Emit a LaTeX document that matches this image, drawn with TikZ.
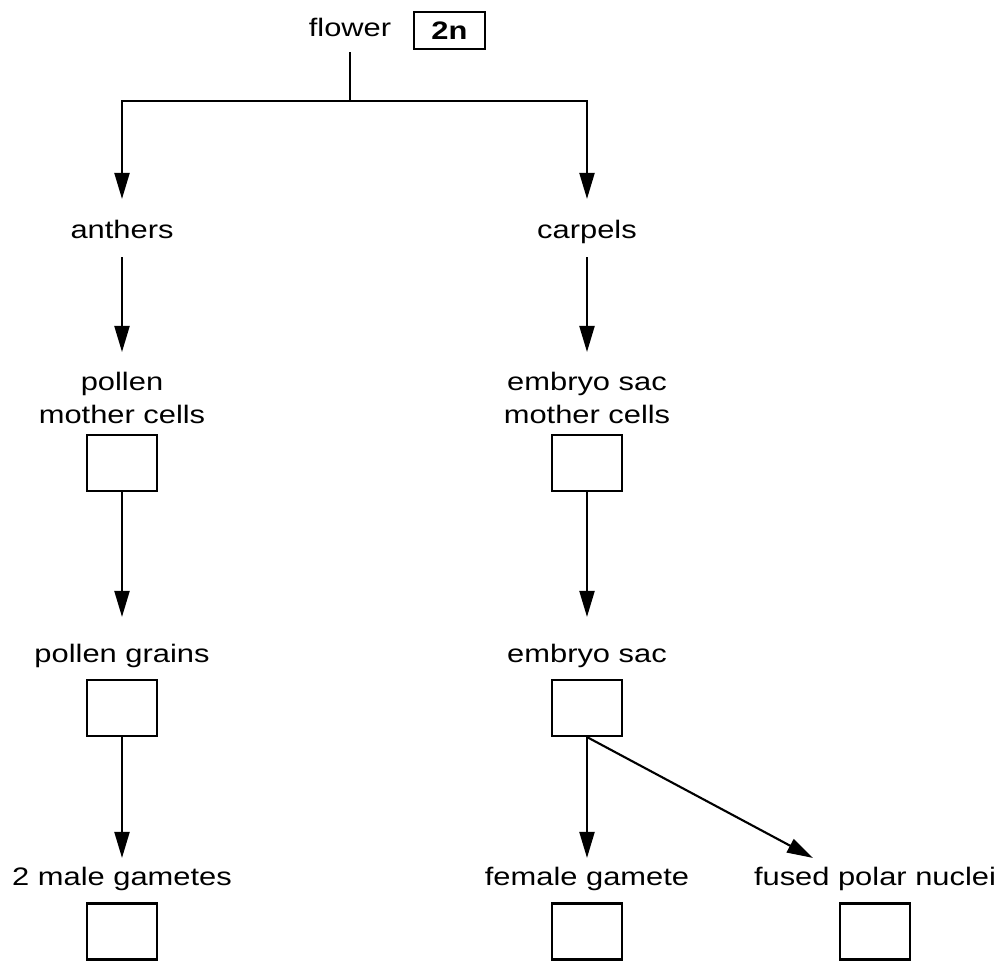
\documentclass[tikz,border=0pt]{standalone}
\usepackage{fontspec}
\setmainfont{Liberation Sans}[FakeStretch=1.22]
\usepackage{tikz}
\usetikzlibrary{arrows.meta,positioning}
\newcommand{\diagfont}{\fontsize{14.4}{18.7}\selectfont}
\tikzset
{
    stage/.style    = {font=\diagfont, inner sep=0pt, text height=0.36cm, text depth=0.13cm, anchor=base},
    stagetwo/.style = {font=\diagfont, inner sep=0pt, align=center, anchor=north},
    cellbox/.style  = {draw=black, line width=1.2pt, minimum width=1.4cm, minimum height=1.12cm, inner sep=0pt},
    ploidy/.style   = {draw=black, line width=1.2pt, font=\diagfont\bfseries, minimum width=1.42cm, minimum height=0.74cm, inner sep=0pt}
}

\begin{document}
\begin{tikzpicture}[->, >={Triangle[length=5.2mm,width=3mm]}, line width=1.2pt]
    \useasboundingbox (0,0) rectangle (19.94,-19.26);

    % top
    \node [stage] (flower) at (7.0,-0.74) {flower};
    \node [ploidy] (twon) at (8.99,-0.61) {2n};
    \coordinate (split) at (7.0,-2.02);

    % male side
    \node [stage] (anthers) at (2.44,-4.78) {anthers};
    \node [stagetwo] (pmc) at (2.44,-7.42) {pollen \\ mother cells};
    \node [cellbox] (pmcbox) at (2.44,-9.26) {};
    \node [stage] (pgrains) at (2.44,-13.24) {pollen grains};
    \node [cellbox] (pgbox) at (2.44,-14.16) {};
    \node [stage] (male) at (2.44,-17.70) {2 male gametes};
    \node [cellbox] (malebox) at (2.44,-18.63) {};

    % female side
    \node [stage] (carpels) at (11.74,-4.78) {carpels};
    \node [stagetwo] (emc) at (11.74,-7.42) {embryo sac \\ mother cells};
    \node [cellbox] (emcbox) at (11.74,-9.26) {};
    \node [stage] (esac) at (11.74,-13.24) {embryo sac};
    \node [cellbox] (esbox) at (11.74,-14.16) {};
    \node [stage] (female) at (11.74,-17.70) {female gamete};
    \node [cellbox] (femalebox) at (11.74,-18.63) {};
    \node [stage] (fused) at (17.5,-17.70) {fused polar nuclei};
    \node [cellbox] (fusedbox) at (17.5,-18.63) {};

    % connectors
    \draw [-, shorten <=0.15cm] (flower.south) -- (split);
    \draw [shorten >=0.42cm] (split) -| (anthers.north);
    \draw [shorten >=0.42cm] (split) -| (carpels.north);

    \draw [shorten <=0.21cm, shorten >=0.38cm] (anthers.south) -- (pmc.north);
    \draw [shorten <=0.21cm, shorten >=0.38cm] (carpels.south) -- (emc.north);

    \draw [shorten >=0.52cm] (pmcbox.south) -- (pgrains.north);
    \draw [shorten >=0.52cm] (emcbox.south) -- (esac.north);

    \draw [shorten >=0.16cm] (pgbox.south) -- (male.north);
    \draw [shorten >=0.16cm] (esbox.south) -- (female.north);
    \draw (esbox.south) -- ([xshift=-1.24cm,yshift=0.16cm]fused.north);
\end{tikzpicture}
\end{document}
